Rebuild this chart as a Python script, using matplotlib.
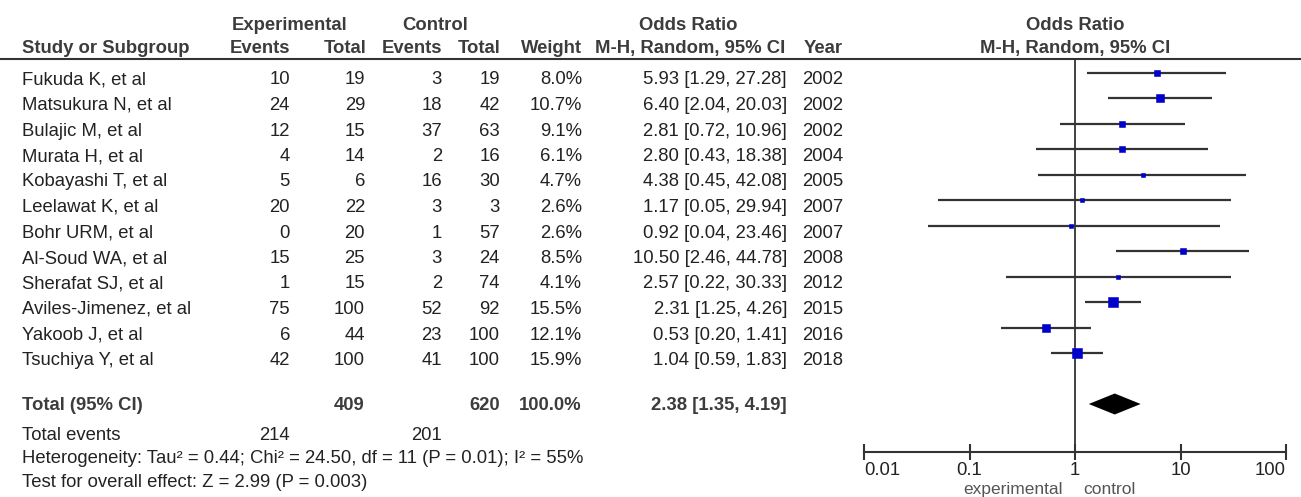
import numpy as np
import matplotlib
matplotlib.use('Agg')
import matplotlib.pyplot as plt

# ---------------- data ----------------
studies = ['Fukuda K, et al', 'Matsukura N, et al', 'Bulajic M, et al', 'Murata H, et al',
           'Kobayashi T, et al', 'Leelawat K, et al', 'Bohr URM, et al', 'Al-Soud WA, et al',
           'Sherafat SJ, et al', 'Aviles-Jimenez, et al', 'Yakoob J, et al', 'Tsuchiya Y, et al']
exp_events = [10, 24, 12, 4, 5, 20, 0, 15, 1, 75, 6, 42]
exp_total = [19, 29, 15, 14, 6, 22, 20, 25, 15, 100, 44, 100]
ctl_events = [3, 18, 37, 2, 16, 3, 1, 3, 2, 52, 23, 41]
ctl_total = [19, 42, 63, 16, 30, 3, 57, 24, 74, 92, 100, 100]
weight = [8.0, 10.7, 9.1, 6.1, 4.7, 2.6, 2.6, 8.5, 4.1, 15.5, 12.1, 15.9]
odds = [5.93, 6.40, 2.81, 2.80, 4.38, 1.17, 0.92, 10.50, 2.57, 2.31, 0.53, 1.04]
ci_lo = [1.29, 2.04, 0.72, 0.43, 0.45, 0.05, 0.04, 2.46, 0.22, 1.25, 0.20, 0.59]
ci_hi = [27.28, 20.03, 10.96, 18.38, 42.08, 29.94, 23.46, 44.78, 30.33, 4.26, 1.41, 1.83]
years = [2002, 2002, 2002, 2004, 2005, 2007, 2007, 2008, 2012, 2015, 2016, 2018]

total_or, total_lo, total_hi = 2.38, 1.35, 4.19
total_weight = 100.0
total_exp_n, total_ctl_n = 409, 620
total_exp_ev, total_ctl_ev = 214, 201
het_text = 'Heterogeneity: Tau² = 0.44; Chi² = 24.50, df = 11 (P = 0.01); I² = 55%'
effect_text = 'Test for overall effect: Z = 2.99 (P = 0.003)'
xticks = [0.01, 0.1, 1, 10, 100]
xticklabels = ['0.01', '0.1', '1', '10', '100']

# ---------------- layout (pixels) ----------
W, H = 1301, 497
plt.rcParams['font.family'] = ['Liberation Sans', 'DejaVu Sans']
FS = 13.3
TXT = '#222222'
BOLD = '#3c3c3c'

fig = plt.figure(figsize=(W / 100, H / 100), dpi=100)
bg = fig.add_axes([0, 0, 1, 1])
bg.set_xlim(0, W)
bg.set_ylim(H, 0)
bg.axis('off')

row0, step = 72.5, 25.5
base_off = 12.0

def t(x, y, s, ha='right', bold=False, **kw):
    bg.text(x, y, s, ha=ha, va='baseline', fontsize=FS,
            fontweight='bold' if bold else 'normal',
            color=BOLD if bold else TXT, **kw)

# headers
t(290, 30, 'Experimental', ha='center', bold=True)
t(435, 30, 'Control', ha='center', bold=True)
t(688, 30, 'Odds Ratio', ha='center', bold=True)
t(1075, 30, 'Odds Ratio', ha='center', bold=True)
t(22, 53, 'Study or Subgroup', ha='left', bold=True)
t(290, 53, 'Events', bold=True)
t(366, 53, 'Total', bold=True)
t(442, 53, 'Events', bold=True)
t(500, 53, 'Total', bold=True)
t(582, 53, 'Weight', bold=True)
t(785, 53, 'M-H, Random, 95% CI', bold=True)
t(843, 53, 'Year', bold=True)
t(1075, 53, 'M-H, Random, 95% CI', ha='center', bold=True)
bg.plot([0, W], [59, 59], color='#333333', lw=1.5)

# study rows
for i, name in enumerate(studies):
    yb = row0 + step * i + base_off
    t(22, yb, name, ha='left')
    t(290, yb, str(exp_events[i]))
    t(365, yb, str(exp_total[i]))
    t(442, yb, str(ctl_events[i]))
    t(500, yb, str(ctl_total[i]))
    t(582, yb, f'{weight[i]:.1f}%')
    t(787, yb, f'{odds[i]:.2f} [{ci_lo[i]:.2f}, {ci_hi[i]:.2f}]')
    t(843, yb, str(years[i]))

# totals
t(22, 410, 'Total (95% CI)', ha='left', bold=True)
t(365, 410, str(total_exp_n), bold=True)
t(500, 410, str(total_ctl_n), bold=True)
t(582, 410, f'{total_weight:.1f}%', bold=True)
t(787, 410, f'{total_or:.2f} [{total_lo:.2f}, {total_hi:.2f}]', bold=True)
t(22, 440, 'Total events', ha='left')
t(290, 440, str(total_exp_ev))
t(442, 440, str(total_ctl_ev))
t(22, 463, het_text, ha='left')
t(22, 487, effect_text, ha='left')

# ---------------- forest plot ----------------
x0, x1, ytop, ybot = 864, 1286, 59, 452
ax = fig.add_axes([x0 / W, (H - ybot) / H, (x1 - x0) / W, (ybot - ytop) / H])
ax.set_xscale('log')
ax.set_xlim(xticks[0], xticks[-1])
ax.set_ylim(ybot, ytop)
ax.patch.set_alpha(0)
for s in ['top', 'left', 'right']:
    ax.spines[s].set_visible(False)
ax.spines['bottom'].set_color('#333333')
ax.spines['bottom'].set_linewidth(1.5)
ax.set_yticks([])
ax.set_xticks(xticks)
ax.set_xticklabels(xticklabels)
ax.minorticks_off()
ax.tick_params(axis='x', direction='inout', length=11, width=1.5, color='#333333',
               labelsize=FS, labelcolor=TXT, pad=2)
labs = ax.get_xticklabels()
labs[0].set_ha('left')
labs[-1].set_ha('right')

ax.axvline(1, color='#333333', lw=1.3, zorder=1)

ys = row0 + step * np.arange(len(studies))
ax.hlines(ys, ci_lo, ci_hi, color='#333333', lw=1.6, zorder=2)
for i in range(len(studies)):
    side = 2.3 * np.sqrt(weight[i])
    ax.plot(odds[i], ys[i], marker='s', markersize=side * 0.72, color='#0000cc',
            markeredgewidth=0.4, markeredgecolor='#0000cc', zorder=3)

yd = 404
ax.fill([total_lo, total_or, total_hi, total_or], [yd, yd - 10.5, yd, yd + 10.5],
        color='black', lw=0, zorder=3)

bg.text(1063, 482, 'experimental', ha='right', va='top', fontsize=12.5, color='#555555')
bg.text(1083, 482, 'control', ha='left', va='top', fontsize=12.5, color='#555555')

fig.savefig('out.png', dpi=100)
